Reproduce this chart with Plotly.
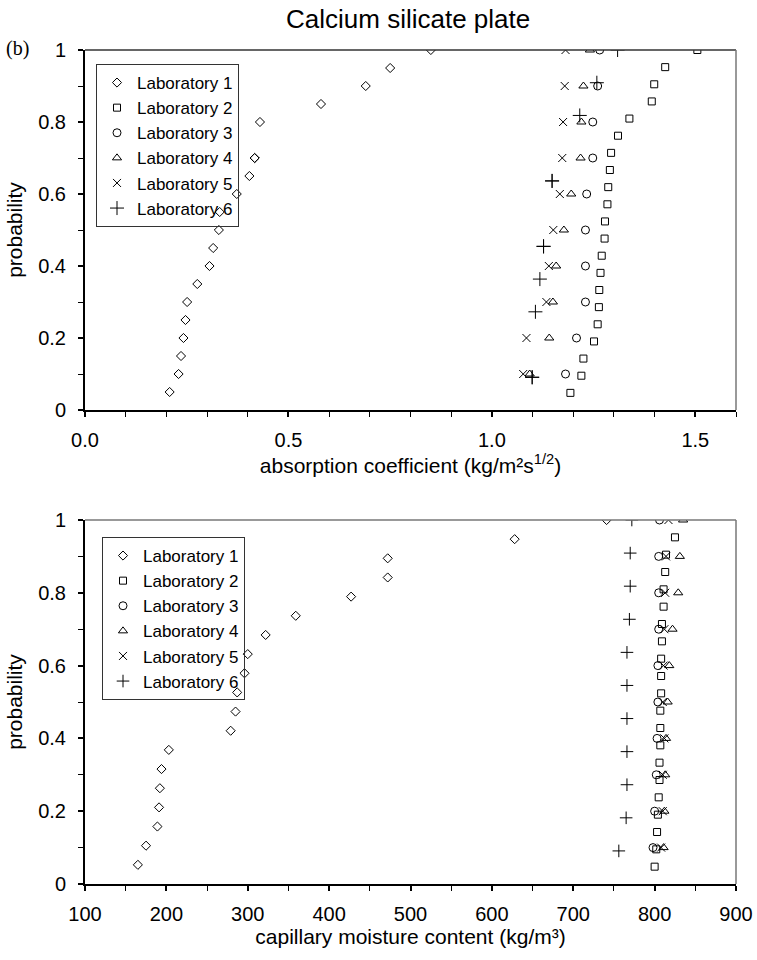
import plotly.graph_objects as go

labs = ["Laboratory 1", "Laboratory 2", "Laboratory 3", "Laboratory 4", "Laboratory 5", "Laboratory 6"]
symbols = ["diamond-open", "square-open", "circle-open", "triangle-up-open", "x-thin", "cross-thin"]
sizes = [7, 7, 8, 8, 8, 10]

# ---- Top: absorption coefficient ----
a1_x = [0.208, 0.230, 0.236, 0.242, 0.247, 0.251, 0.276, 0.306, 0.315, 0.329, 0.331,
        0.373, 0.404, 0.417, 0.417, 0.430, 0.58, 0.69, 0.75, 0.85]
a1_p = [0.05, 0.10, 0.15, 0.20, 0.25, 0.30, 0.35, 0.40, 0.45, 0.50, 0.55,
        0.60, 0.65, 0.70, 0.70, 0.80, 0.85, 0.90, 0.95, 1.00]
a2_x = [1.193, 1.220, 1.225, 1.251, 1.260, 1.263, 1.264, 1.267, 1.270, 1.277, 1.278,
        1.284, 1.286, 1.290, 1.293, 1.310, 1.338, 1.393, 1.399, 1.426, 1.505]
a2_p = [1/21, 2/21, 3/21, 4/21, 5/21, 6/21, 7/21, 8/21, 9/21, 10/21, 11/21,
        12/21, 13/21, 14/21, 15/21, 16/21, 17/21, 18/21, 19/21, 20/21, 1.0]
a3_x = [1.181, 1.208, 1.230, 1.230, 1.230, 1.233, 1.248, 1.248, 1.260, 1.265]
a4_x = [1.093, 1.141, 1.150, 1.158, 1.177, 1.195, 1.218, 1.220, 1.225, 1.241]
a5_x = [1.077, 1.085, 1.134, 1.140, 1.151, 1.167, 1.173, 1.175, 1.179, 1.181]
a345_p = [0.1, 0.2, 0.3, 0.4, 0.5, 0.6, 0.7, 0.8, 0.9, 1.0]
a6_x = [1.099, 1.099, 1.107, 1.118, 1.127, 1.127, 1.148, 1.148, 1.216, 1.258, 1.309]
a6_p = [1/11, 1/11, 3/11, 4/11, 5/11, 5/11, 7/11, 7/11, 9/11, 10/11, 1.0]

# ---- Bottom: capillary moisture content ----
c1_x = [165, 175, 189, 191, 192, 194, 203, 279, 285, 287, 296, 300, 322, 359, 427,
        472, 472, 628, 741]
c1_p = [i / 19 for i in range(1, 20)]
c2_x = [800, 802, 803, 804, 805, 806, 806, 807, 807, 807, 808, 808, 808, 809, 809,
        811, 811, 813, 814, 825]
c2_p = [i / 21 for i in range(1, 21)]
c3_x = [798, 800, 802, 803, 804, 804, 805, 805, 805, 806]
c4_x = [811, 812, 813, 814, 816, 818, 822, 829, 831, 835]
c5_x = [808, 810, 810, 812, 810, 811, 812, 813, 814, 817]
c345_p = [0.1, 0.2, 0.3, 0.4, 0.5, 0.6, 0.7, 0.8, 0.9, 1.0]
c6_x = [756, 765, 766, 766, 766, 766, 766, 769, 770, 770, 772]
c6_p = [i / 11 for i in range(1, 12)]

top = [(a1_x, a1_p), (a2_x, a2_p), (a3_x, a345_p), (a4_x, a345_p), (a5_x, a345_p), (a6_x, a6_p)]
bot = [(c1_x, c1_p), (c2_x, c2_p), (c3_x, c345_p), (c4_x, c345_p), (c5_x, c345_p), (c6_x, c6_p)]

fig = go.Figure()
for i, (xs, ps) in enumerate(top):
    fig.add_trace(go.Scatter(x=xs, y=ps, mode="markers", name=labs[i], xaxis="x", yaxis="y",
                             legend="legend",
                             marker=dict(symbol=symbols[i], size=sizes[i], color="black",
                                         line=dict(width=1, color="black"))))
for i, (xs, ps) in enumerate(bot):
    fig.add_trace(go.Scatter(x=xs, y=ps, mode="markers", name=labs[i], xaxis="x2", yaxis="y2",
                             legend="legend2",
                             marker=dict(symbol=symbols[i], size=sizes[i] if i != 5 else 9, color="black",
                                         line=dict(width=1, color="black"))))

W, H = 757, 960
xd = [85 / W, 736 / W]
yd1 = [1 - 410 / H, 1 - 50 / H]
yd2 = [1 - 884 / H, 1 - 520 / H]
font = "Liberation Sans, Arial, sans-serif"

common_ax = dict(showline=True, linecolor="black", linewidth=2, ticks="outside", ticklen=5,
                 tickwidth=1.5, tickcolor="black", showgrid=False, zeroline=False,
                 automargin=False,
                 tickfont=dict(size=20, color="black", family=font))
minor_ax = dict(ticks="outside", ticklen=5, tickcolor="black", tickwidth=1)

fig.update_layout(
    template="none",
    width=W, height=H, margin=dict(l=0, r=0, t=0, b=0),
    paper_bgcolor="white", plot_bgcolor="white",
    font=dict(family=font, color="black"),
    showlegend=True,
    xaxis=dict(domain=xd, anchor="y", range=[0, 1.6], dtick=0.5, tick0=0, tickformat=".1f",
               minor=dict(dtick=0.1, **minor_ax), ticklabelstandoff=6,
               title=dict(text="absorption coefficient (kg/m²s<sup>1/2</sup>)", font=dict(size=21), standoff=4),
               **common_ax),
    yaxis=dict(domain=yd1, anchor="x", range=[0, 1], tickvals=[0, 0.2, 0.4, 0.6, 0.8, 1],
               ticktext=["0", "0.2", "0.4", "0.6", "0.8", "1"],
               minor=dict(dtick=0.1, **minor_ax), ticklabelstandoff=8,
               title=dict(text="probability", font=dict(size=21), standoff=10),
               **common_ax),
    xaxis2=dict(domain=xd, anchor="y2", range=[100, 900], dtick=100, tick0=100,
                minor=dict(dtick=50, **minor_ax), ticklabelstandoff=6,
                title=dict(text="capillary moisture content (kg/m³)", font=dict(size=21), standoff=4),
                **common_ax),
    yaxis2=dict(domain=yd2, anchor="x2", range=[0, 1], tickvals=[0, 0.2, 0.4, 0.6, 0.8, 1],
                ticktext=["0", "0.2", "0.4", "0.6", "0.8", "1"],
                minor=dict(dtick=0.1, **minor_ax), ticklabelstandoff=8,
                title=dict(text="probability", font=dict(size=21), standoff=10),
                **common_ax),
    legend=dict(x=96 / W, y=1 - 64 / H, xanchor="left", yanchor="top", bgcolor="rgba(255,255,255,0)",
                bordercolor="#333333", borderwidth=1, font=dict(size=17, family=font),
                itemsizing="trace", tracegroupgap=0, itemwidth=30),
    legend2=dict(x=102 / W, y=1 - 537 / H, xanchor="left", yanchor="top", bgcolor="rgba(255,255,255,0)",
                 bordercolor="#333333", borderwidth=1, font=dict(size=17, family=font),
                 itemsizing="trace", tracegroupgap=0, itemwidth=30),
    shapes=[
        dict(type="line", xref="x domain", yref="y domain", x0=0, x1=1, y0=1, y1=1,
             line=dict(color="#333333", width=1.5)),
        dict(type="line", xref="x domain", yref="y domain", x0=1, x1=1, y0=0, y1=1,
             line=dict(color="#777777", width=1.5)),
        dict(type="line", xref="x2 domain", yref="y2 domain", x0=0, x1=1, y0=1, y1=1,
             line=dict(color="#777777", width=1.5)),
        dict(type="line", xref="x2 domain", yref="y2 domain", x0=1, x1=1, y0=0, y1=1,
             line=dict(color="#777777", width=1.5)),
    ],
    annotations=[
        dict(text="Calcium silicate plate", x=408 / W, y=1 - 19 / H, xref="paper", yref="paper",
             showarrow=False, font=dict(size=26, family=font), xanchor="center", yanchor="middle"),
        dict(text="(b)", x=4 / W, y=1 - 48 / H, xref="paper", yref="paper",
             showarrow=False, font=dict(size=20, family="Liberation Serif, Times New Roman, serif"),
             xanchor="left", yanchor="middle"),
    ],
)

fig.write_html("out.html")
